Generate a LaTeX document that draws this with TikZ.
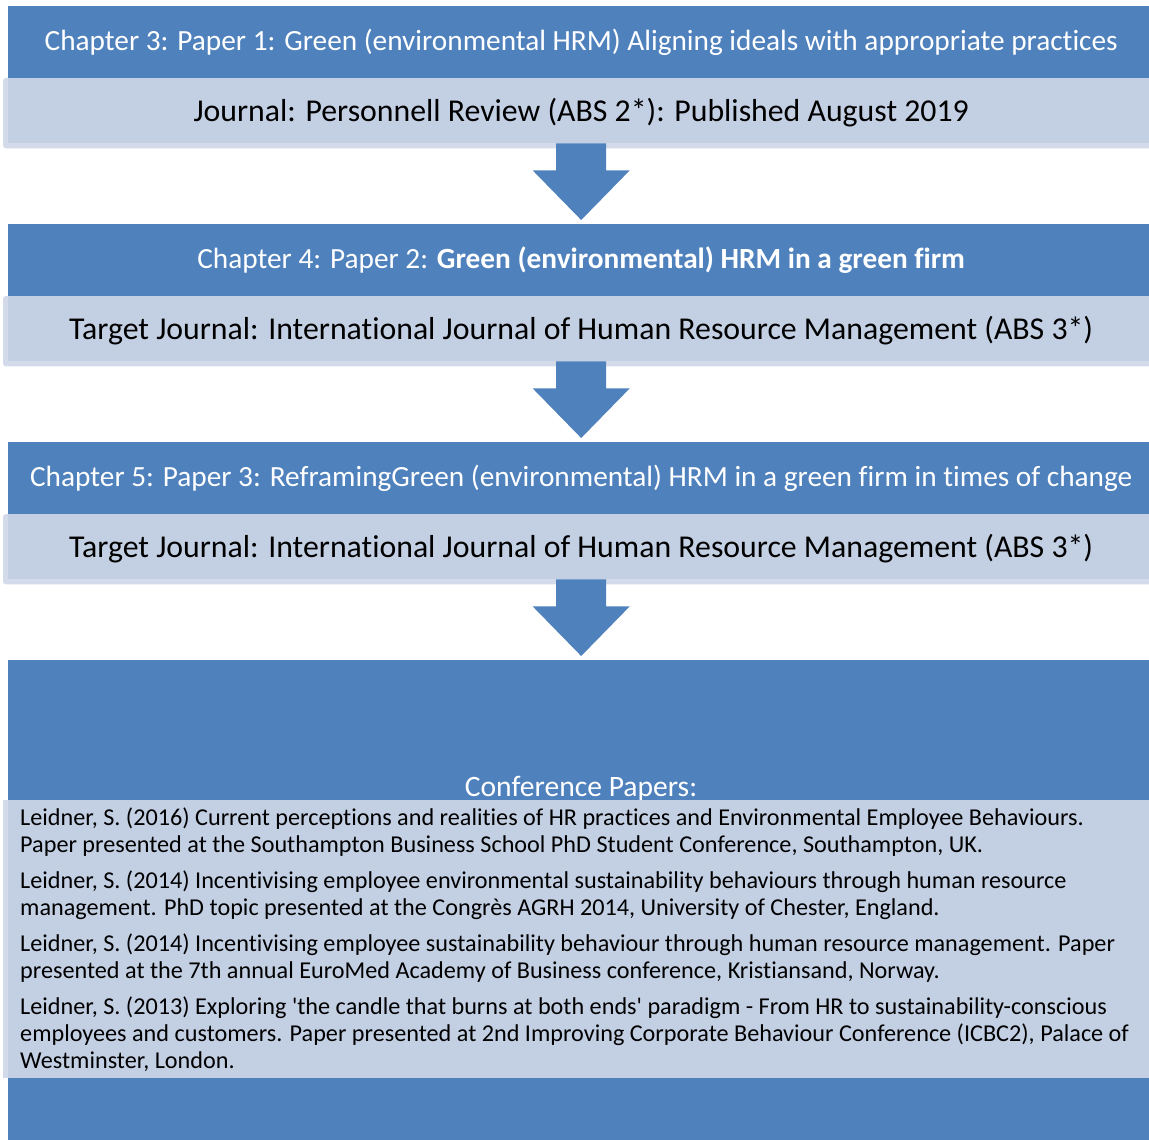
\documentclass[tikz,border=0pt]{standalone}
\usepackage{fontspec}
\setmainfont[Ligatures={TeX,NoCommon}]{Carlito}
\usetikzlibrary{calc,backgrounds}
\definecolor{hdrblue}{HTML}{4F81BD}
\definecolor{ltfill}{HTML}{C3CFE3}
\definecolor{ltedge}{HTML}{D3DBEA}
\tikzset{
 hdrbox/.style={fill=hdrblue,text=white,minimum width=1146pt,minimum height=72pt,inner sep=0pt,anchor=north west,font=\fontsize{29.3}{34}\selectfont},
 jbox/.style={fill=ltfill,text=black,minimum width=1146pt,minimum height=65pt,inner sep=0pt,anchor=north west,font=\fontsize{31.8}{36}\selectfont,text height=30pt,text depth=8pt},
 jedge/.style={fill=ltedge,rounded corners=3pt},
 blockarrow/.style={fill=hdrblue},
}
\newcommand{\blockarr}[2]{%
 \fill[blockarrow] ($(#1.south)+(-25,0)$) -- ($(#1.south)+(25,0)$) -- ($(#1.south)+(25,27)$) -- ($(#1.south)+(48.5,27)$) -- ($(#2.north)+(0,-4)$) -- ($(#1.south)+(-48.5,27)$) -- ($(#1.south)+(-25,27)$) -- cycle;}
\begin{document}
\begin{tikzpicture}[x=1pt,y=-1pt]
\useasboundingbox (0,0) rectangle (1149,1140);
\clip (0,0) rectangle (1149,1140);

% headers and journal boxes
\node[hdrbox] (h1) at (8,6) {Chapter 3: Paper 1: Green (environmental HRM) Aligning ideals with appropriate practices};
\node[jbox] (j1) at (8,78) {Journal: Personnell Review (ABS 2*): Published August 2019};
\node[hdrbox] (h2) at (8,224) {Chapter 4: Paper 2: \textbf{Green (environmental) HRM in a green firm}};
\node[jbox] (j2) at (8,296) {Target Journal: International Journal of Human Resource Management (ABS 3*)};
\node[hdrbox] (h3) at (8,442) {Chapter 5: Paper 3: ReframingGreen (environmental) HRM in a green firm in times of change};
\node[jbox] (j3) at (8,514) {Target Journal: International Journal of Human Resource Management (ABS 3*)};

% conference block
\node[fill=hdrblue,minimum width=1146pt,minimum height=485pt,inner sep=0pt,anchor=north west] (cb) at (8,660) {};
\node[text=white,font=\fontsize{29.6}{34}\selectfont,inner sep=0pt] (ctitle) at (581,789) {Conference Papers:};
\node[fill=ltfill,minimum width=1146pt,minimum height=278pt,inner sep=0pt,anchor=north west] (cl) at (8,800) {};
\node[anchor=north west,align=left,inner sep=0pt,font=\fontsize{24.2}{27}\selectfont] (ct) at (20,808) {%
Leidner, S. (2016) Current perceptions and realities of HR practices and Environmental Employee Behaviours.\\
Paper presented at the Southampton Business School PhD Student Conference, Southampton, UK.\\[9pt]
Leidner, S. (2014) Incentivising employee environmental sustainability behaviours through human resource\\
management. PhD topic presented at the Congrès AGRH 2014, University of Chester, England.\\[9pt]
Leidner, S. (2014) Incentivising employee sustainability behaviour through human resource management. Paper\\
presented at the 7th annual EuroMed Academy of Business conference, Kristiansand, Norway.\\[9pt]
Leidner, S. (2013) Exploring \textquotesingle the candle that burns at both ends\textquotesingle{} paradigm - From HR to sustainability-conscious\\
employees and customers. Paper presented at 2nd Improving Corporate Behaviour Conference (ICBC2), Palace of\\
Westminster, London.};

\begin{scope}[on background layer]
 \fill[white] (0,0) rectangle (1149,1140);
 \fill[jedge] ($(j1.north west)+(-5,0)$) rectangle ($(j1.south east)+(5,5)$);
 \fill[jedge] ($(j2.north west)+(-5,0)$) rectangle ($(j2.south east)+(5,5)$);
 \fill[jedge] ($(j3.north west)+(-5,0)$) rectangle ($(j3.south east)+(5,5)$);
 \fill[ltedge] ($(cl.north west)+(-5,0)$) rectangle (cl.south);
 \blockarr{j1}{h2}
 \blockarr{j2}{h3}
 \blockarr{j3}{cb}
\end{scope}
\end{tikzpicture}
\end{document}
